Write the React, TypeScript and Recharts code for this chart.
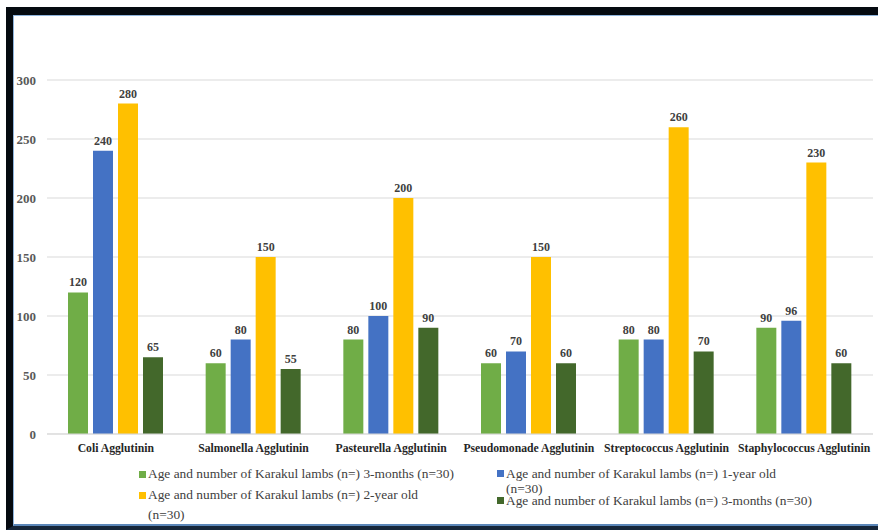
import { BarChart, Bar, XAxis, YAxis, CartesianGrid, Legend, LabelList } from 'recharts';

const categories = [
  'Coli Agglutinin',
  'Salmonella Agglutinin',
  'Pasteurella Agglutinin',
  'Pseudomonade Agglutinin',
  'Streptococcus Agglutinin',
  'Staphylococcus Agglutinin',
];

const seriesNames = [
  'Age and number of Karakul lambs (n=) 3-months (n=30)',
  'Age and number of Karakul lambs (n=) 1-year old (n=30)',
  'Age and number of Karakul lambs (n=) 2-year old (n=30)',
  'Age and number of Karakul lambs (n=) 3-months (n=30)',
];

const threeMonths = [120, 60, 80, 60, 80, 90];
const oneYear = [240, 80, 100, 70, 80, 96];
const twoYear = [280, 150, 200, 150, 260, 230];
const threeMonthsB = [65, 55, 90, 60, 70, 60];

const yTicks = [0, 50, 100, 150, 200, 250, 300];

const colors = ['#70AD47', '#4472C4', '#FFC000', '#43682B'];
const keys = ['s0', 's1', 's2', 's3'];

const data = categories.map((name, i) => ({
  name,
  s0: threeMonths[i],
  s1: oneYear[i],
  s2: twoYear[i],
  s3: threeMonthsB[i],
}));

const serif = '"Liberation Serif", "Times New Roman", serif';

// where each legend entry sits (two columns, Excel-style wrapping)
const legendSlots = [
  { left: 139, top: 464, width: 330, lineHeight: 20 },
  { left: 497, top: 466, width: 295, lineHeight: 15 },
  { left: 139, top: 485, width: 295, lineHeight: 20 },
  { left: 497, top: 493, width: 330, lineHeight: 15 },
];

const LegendBlock = (props: any) => {
  const payload = props.payload || [];
  return (
    <div style={{ position: 'relative', width: 878, height: 0 }}>
      {payload.map((entry: any) => {
        const idx = keys.indexOf(entry.dataKey);
        const slot = legendSlots[idx];
        if (!slot) return null;
        return (
          <div
            key={entry.dataKey}
            style={{
              position: 'absolute',
              left: slot.left,
              top: slot.top,
              width: slot.width,
              display: 'flex',
              alignItems: 'flex-start',
              fontFamily: serif,
              fontSize: 13.4,
              lineHeight: slot.lineHeight + 'px',
              color: '#404040',
            }}
          >
            <span
              style={{
                display: 'inline-block',
                width: 7,
                height: 7,
                background: colors[idx],
                marginTop: (slot.lineHeight - 7) / 2,
                marginRight: 2,
                flex: 'none',
              }}
            />
            <span>{entry.value}</span>
          </div>
        );
      })}
    </div>
  );
};

export default function App() {
  return (
    <div style={{ position: 'absolute', left: 0, top: 0, width: 878, height: 530, overflow: 'hidden', background: '#fff' }}>
      {/* frame around the chart */}
      <div
        style={{
          position: 'absolute',
          left: 6,
          top: 7,
          width: 900,
          height: 523,
          boxSizing: 'border-box',
          borderTop: '8px solid #050a10',
          borderLeft: '7px solid #050a10',
          borderBottom: '4px solid #16263a',
        }}
      >
        <div
          style={{
            width: '100%',
            height: '100%',
            boxSizing: 'border-box',
            borderTop: '1px solid #8fb4dc',
            borderLeft: '1px solid #8fb4dc',
            borderBottom: '2px solid #5b86b8',
            background: '#fff',
          }}
        />
      </div>
      <div style={{ position: 'absolute', left: 0, top: 0 }}>
        <BarChart
          width={878}
          height={530}
          data={data}
          margin={{ top: 80, right: 5, bottom: 66, left: 0 }}
          barCategoryGap={21}
          barGap={5}
        >
          <CartesianGrid vertical={false} stroke="#d9d9d9" strokeWidth={1} />
          <XAxis
            dataKey="name"
            height={30}
            axisLine={{ stroke: '#d9d9d9' }}
            tickLine={false}
            interval={0}
            tick={{ fontFamily: serif, fontSize: 11.7, fontWeight: 'bold', fill: '#262626' }}
            tickMargin={4}
          />
          <YAxis
            width={47}
            domain={[0, 300]}
            ticks={yTicks}
            axisLine={false}
            tickLine={false}
            tickMargin={5}
            tick={{ fontFamily: serif, fontSize: 13, fontWeight: 'bold', fill: '#595959' }}
          />
          <Legend
            content={<LegendBlock />}
            itemSorter={null as any}
            wrapperStyle={{ position: 'absolute', left: 0, top: 0, width: 878, height: 0 }}
          />
          {keys.map((k, i) => (
            <Bar key={k} dataKey={k} name={seriesNames[i]} fill={colors[i]} isAnimationActive={false}>
              <LabelList
                dataKey={k}
                position="top"
                offset={6}
                fontFamily={serif}
                fontSize={12}
                fontWeight="bold"
                fill="#404040"
              />
            </Bar>
          ))}
        </BarChart>
      </div>
    </div>
  );
}
